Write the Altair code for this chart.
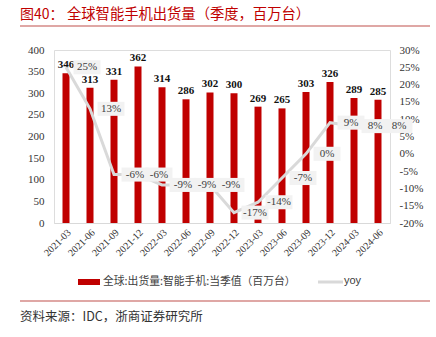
import altair as alt
import pandas as pd

quarters = ["2021-03", "2021-06", "2021-09", "2021-12", "2022-03", "2022-06", "2022-09",
            "2022-12", "2023-03", "2023-06", "2023-09", "2023-12", "2024-03", "2024-06"]
shipments = [346, 313, 331, 362, 314, 286, 302, 300, 269, 265, 303, 326, 289, 285]
yoy = [25, 13, -6, -6, -9, -9, -9, -17, -14, -7, 0, 9, 8, 8]

title_prefix = "图40："
title_main = "全球智能手机出货量（季度，百万台）"
legend_bar = "全球:出货量:智能手机:当季值（百万台）"
legend_line = "yoy"
source = "资料来源：IDC，浙商证券研究所"

df = pd.DataFrame({"q": quarters, "v": shipments, "yoy": yoy})
df["yl"] = [f"{v}%" for v in yoy]

RED = "#C00000"
SERIF = "Liberation Serif"
CJK = "Noto Sans CJK SC"

xenc = alt.X("q:N", sort=quarters, title=None,
             scale=alt.Scale(type="band", paddingInner=0, paddingOuter=0),
             axis=alt.Axis(labelAngle=-45, labelFont=SERIF, labelFontSize=10,
                           labelColor="#333333", ticks=False, domainColor="#D9D9D9",
                           labelPadding=4))

yleft = alt.Y("v:Q", title=None, scale=alt.Scale(domain=[0, 400], nice=False),
              axis=alt.Axis(values=list(range(0, 401, 50)), grid=False, ticks=False,
                            domain=False, labelFont=SERIF, labelFontSize=11,
                            labelColor="#333333", labelPadding=10))

yright = alt.Y("yoy:Q", title=None, scale=alt.Scale(domain=[-20, 30], nice=False),
               axis=alt.Axis(orient="right", values=list(range(-20, 31, 5)), grid=False,
                             ticks=False, domain=False, labelFont=SERIF, labelFontSize=11,
                             labelColor="#333333", labelPadding=9, labelAlign="left",
                             labelExpr="datum.value + '%'"))

base = alt.Chart(df)

bars = base.mark_bar(size=7, color=RED).encode(x=xenc, y=yleft)
bar_labels = base.mark_text(font=SERIF, fontSize=11, fontWeight="bold", color="#111111",
                            dy=-8).encode(x=xenc, y=yleft, text="v:Q")
left_group = alt.layer(bars, bar_labels)

line = base.mark_line(color="#D9D9D9", strokeWidth=3).encode(x=xenc, y=yright)
boxes = base.mark_point(shape="M -1 -0.52 L 1 -0.52 L 1 0.52 L -1 0.52 Z", size=729,
                        filled=True, color="#F2F2F2", opacity=1, xOffset=21).encode(
    x=xenc, y=yright)
yoy_labels = base.mark_text(font=SERIF, fontSize=11, color="#404040", xOffset=21).encode(
    x=xenc, y=yright, text="yl:N")
right_group = alt.layer(line, boxes, yoy_labels)

one = pd.DataFrame({"a": [0]})
d = alt.Chart(one)
title1 = d.mark_text(text=title_prefix, font=CJK, fontSize=14, color=RED, align="left",
                     baseline="middle").encode(x=alt.value(-34), y=alt.value(-35))
title2 = d.mark_text(text=title_main, font=CJK, fontSize=14.3, color=RED, align="left",
                     baseline="middle").encode(x=alt.value(13), y=alt.value(-35))
top_rule = d.mark_rule(color="#C0504D", strokeWidth=1.2).encode(
    x=alt.value(-34), x2=alt.value(376), y=alt.value(-24))
bottom_rule = d.mark_rule(color="#C0504D", strokeWidth=1.2).encode(
    x=alt.value(-34), x2=alt.value(376), y=alt.value(251))
leg_rect = d.mark_rule(color=RED, strokeWidth=6).encode(
    x=alt.value(24), x2=alt.value(46), y=alt.value(232))
leg_text = d.mark_text(text=legend_bar, font=CJK, fontSize=10.8, color="#404040",
                       align="left", baseline="middle").encode(x=alt.value(49), y=alt.value(232))
leg_line = d.mark_rule(color="#D9D9D9", strokeWidth=3).encode(
    x=alt.value(264), x2=alt.value(289), y=alt.value(232))
leg_text2 = d.mark_text(text=legend_line, font="Liberation Sans", fontSize=11, color="#404040",
                        align="left", baseline="middle").encode(x=alt.value(290), y=alt.value(231))
src = d.mark_text(text=source, font=CJK, fontSize=12.5, color="#333333", align="left",
                  baseline="middle").encode(x=alt.value(-34), y=alt.value(267))

deco = alt.layer(title1, title2, top_rule, bottom_rule, leg_rect, leg_text, leg_line,
                 leg_text2, src)

chart = alt.layer(left_group, right_group, deco).resolve_scale(y="independent").properties(
    width=336, height=173,
    autosize=alt.AutoSizeParams(type="none"),
    padding={"left": 54, "top": 50, "right": 46, "bottom": 114},
).configure_view(stroke=None).configure(background="white")

chart.save("out.html", embed_options={"renderer": "svg", "actions": False})
